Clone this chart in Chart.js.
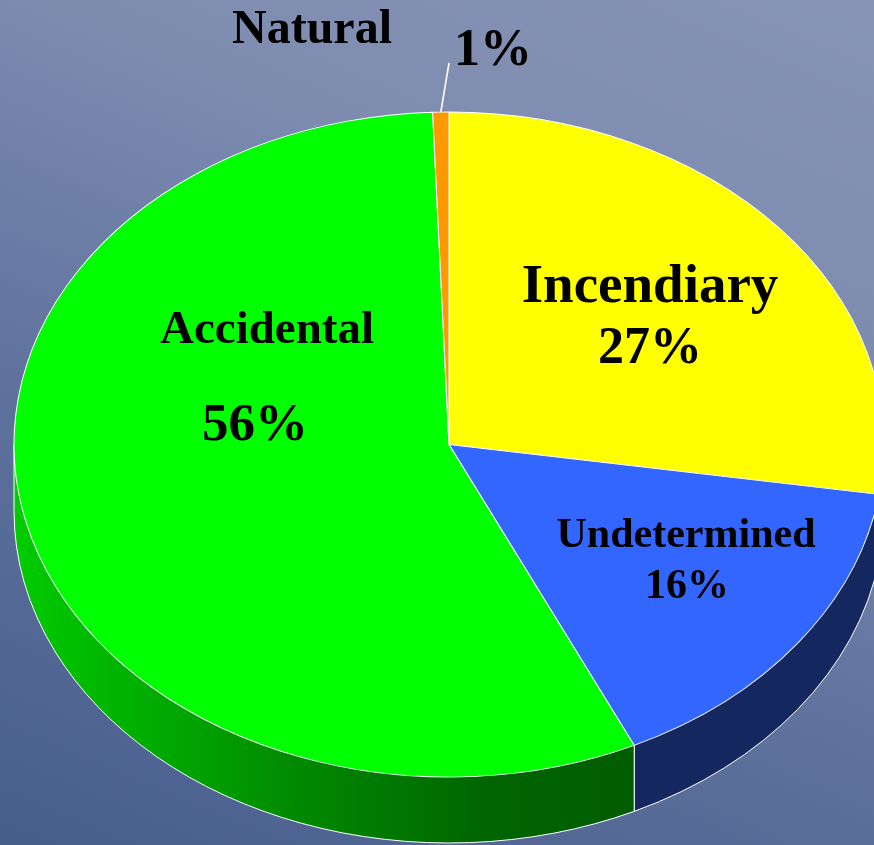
<!DOCTYPE html>
<html>
<head>
<meta charset="utf-8">
<script src="https://cdn.jsdelivr.net/npm/chart.js@4.4.1/dist/chart.umd.min.js"></script>
<style>
  html, body { margin: 0; padding: 0; overflow: hidden; }
  body {
    width: 874px; height: 845px;
    background: linear-gradient(203deg, #8794b7 0%, #7e8cb0 28%, #5e729d 62%, #475d8c 100%);
  }
  #wrap { position: relative; width: 874px; height: 845px; }
</style>
</head>
<body>
<div id="wrap"><canvas id="causes" width="874" height="845"></canvas></div>
<script>
const categories = ['Incendiary', 'Undetermined', 'Accidental', 'Natural'];
const shares = [27.4, 15.6, 56.4, 0.6];
const topColors = ['#ffff00', '#3366ff', '#00ff00', '#ff9900'];
const sideColors = ['#a6a600', '#14285f', null, '#a86400'];

// where the tilted pie sits on the page
const CX = 449, CY = 444.5, RX = 435, RY = 332.5, DEPTH = 66;

// text placement for each slice: [name line, percent line]
const labelSpots = [
  [{ x: 650, y: 302, size: 55 }, { x: 650, y: 363, size: 52 }],
  [{ x: 686, y: 547, size: 42 }, { x: 687, y: 598, size: 42 }],
  [{ x: 267, y: 343, size: 47 }, { x: 255, y: 440, size: 53 }],
  [{ x: 312, y: 43, size: 48 }, { x: 493, y: 65, size: 52 }]
];

function sideFill(ctx, i) {
  if (sideColors[i]) return sideColors[i];
  const g = ctx.createLinearGradient(CX - RX, 0, CX + 190, 0);
  g.addColorStop(0, '#00cc00');
  g.addColorStop(0.45, '#008a00');
  g.addColorStop(0.75, '#006600');
  g.addColorStop(1, '#005c00');
  return g;
}

const pie3d = {
  id: 'pie3d',
  beforeDatasetsDraw(chart) {
    const ctx = chart.ctx;
    const arcs = chart.getDatasetMeta(0).data;

    // side wall of the front half
    arcs.forEach((arc, i) => {
      const a1 = Math.max(arc.startAngle, 0);
      const a2 = Math.min(arc.endAngle, Math.PI);
      if (a2 <= a1) return;
      ctx.save();
      ctx.beginPath();
      ctx.ellipse(CX, CY, RX, RY, 0, a1, a2, false);
      ctx.ellipse(CX, CY + DEPTH, RX, RY, 0, a2, a1, true);
      ctx.closePath();
      ctx.fillStyle = sideFill(ctx, i);
      ctx.fill();
      ctx.strokeStyle = '#ffffff';
      ctx.lineWidth = 1;
      ctx.beginPath();
      ctx.ellipse(CX, CY + DEPTH, RX, RY, 0, a1, a2, false);
      ctx.stroke();
      [a1, a2].forEach(a => {
        const x = CX + RX * Math.cos(a);
        const y = CY + RY * Math.sin(a);
        ctx.beginPath();
        ctx.moveTo(x, y);
        ctx.lineTo(x, y + DEPTH);
        ctx.stroke();
      });
      ctx.restore();
    });

    // squash the flat pie into the tilted top face
    const first = arcs[0];
    const R = first.outerRadius;
    ctx.save();
    ctx.translate(CX, CY);
    ctx.scale(RX / R, RY / R);
    ctx.translate(-first.x, -first.y);
  },
  afterDatasetsDraw(chart) {
    const ctx = chart.ctx;
    ctx.restore();
    const arcs = chart.getDatasetMeta(0).data;

    // leader line for the tiny slice
    const small = arcs[3];
    const mid = (small.startAngle + small.endAngle) / 2;
    ctx.save();
    ctx.strokeStyle = '#ffffff';
    ctx.lineWidth = 1.6;
    ctx.beginPath();
    ctx.moveTo(CX + RX * Math.cos(mid), CY + RY * Math.sin(mid));
    ctx.lineTo(449, 63);
    ctx.stroke();
    ctx.restore();

    ctx.save();
    ctx.fillStyle = '#000000';
    ctx.textAlign = 'center';
    ctx.textBaseline = 'alphabetic';
    categories.forEach((name, i) => {
      const [a, b] = labelSpots[i];
      ctx.font = `bold ${a.size}px "Liberation Serif", "Times New Roman", serif`;
      ctx.fillText(name, a.x, a.y);
      ctx.font = `bold ${b.size}px "Liberation Serif", "Times New Roman", serif`;
      ctx.fillText(`${Math.round(shares[i])}%`, b.x, b.y);
    });
    ctx.restore();
  }
};

new Chart(document.getElementById('causes'), {
  type: 'pie',
  data: {
    labels: categories,
    datasets: [{
      data: shares,
      backgroundColor: topColors,
      borderColor: '#ffffff',
      borderWidth: 1,
      clip: false
    }]
  },
  options: {
    responsive: false,
    animation: false,
    events: [],
    layout: { padding: 0 },
    plugins: {
      legend: { display: false },
      tooltip: { enabled: false }
    }
  },
  plugins: [pie3d]
});
</script>
</body>
</html>
